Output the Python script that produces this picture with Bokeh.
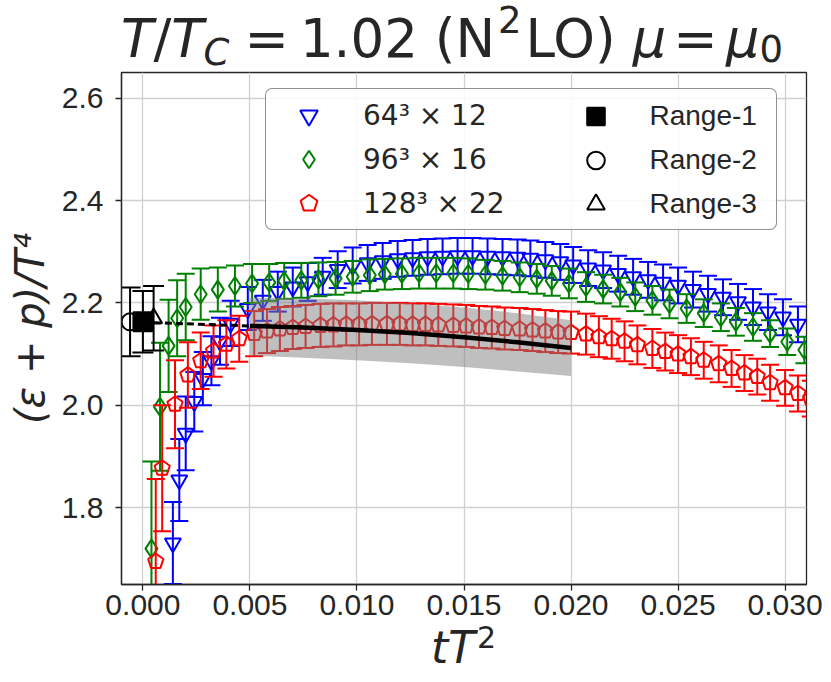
import numpy as np
from bokeh.plotting import figure
from bokeh.layouts import column
from bokeh.models import (ColumnDataSource, FixedTicker, PrintfTickFormatter, Div,
                          Legend, LegendItem, Range1d)
from bokeh.embed import file_html
from bokeh.resources import INLINE

# ---------------- data ----------------
x_ticks = [0.000, 0.005, 0.010, 0.015, 0.020, 0.025, 0.030]
y_ticks = [1.8, 2.0, 2.2, 2.4, 2.6]

blue_label = "64³ × 12"
blue_x = [0.0014, 0.0017, 0.0020, 0.0024, 0.0028, 0.0032, 0.0036, 0.0041, 0.0049, 0.0056,
          0.0063, 0.0070, 0.0077, 0.0084, 0.0091, 0.0098, 0.0105, 0.0112, 0.0119, 0.0126,
          0.0133, 0.0140, 0.0147, 0.0154, 0.0161, 0.0168, 0.0175, 0.0181, 0.0188, 0.0195,
          0.0201, 0.0208, 0.0215, 0.0222, 0.0229, 0.0236, 0.0243, 0.0250, 0.0257, 0.0264,
          0.0271, 0.0278, 0.0285, 0.0292, 0.0299, 0.0306]
blue_y = [1.731, 1.854, 1.945, 2.007, 2.052, 2.087, 2.125, 2.160, 2.189, 2.205,
          2.222, 2.231, 2.241, 2.252, 2.265, 2.273, 2.278, 2.282, 2.286, 2.288,
          2.290, 2.291, 2.292, 2.292, 2.291, 2.290, 2.289, 2.287, 2.284, 2.280,
          2.274, 2.268, 2.264, 2.257, 2.251, 2.245, 2.240, 2.234, 2.226, 2.218,
          2.211, 2.202, 2.192, 2.182, 2.172, 2.158]
blue_err = [0.080, 0.080, 0.072, 0.058, 0.052, 0.048, 0.046, 0.044, 0.042, 0.040,
            0.039, 0.038, 0.037, 0.036, 0.036, 0.035, 0.035, 0.035, 0.035, 0.035,
            0.035, 0.035, 0.035, 0.035, 0.035, 0.035, 0.035, 0.035, 0.035, 0.035,
            0.035, 0.035, 0.035, 0.035, 0.035, 0.035, 0.035, 0.035, 0.035, 0.035,
            0.035, 0.035, 0.035, 0.035, 0.035, 0.035]

green_label = "96³ × 16"
green_x = [0.0004, 0.0008, 0.0012, 0.0016, 0.0020, 0.0027, 0.0035, 0.0043, 0.0051, 0.0059,
           0.0066, 0.0074, 0.0082, 0.0090, 0.0098, 0.0106, 0.0113, 0.0121, 0.0129, 0.0137,
           0.0145, 0.0152, 0.0160, 0.0168, 0.0176, 0.0184, 0.0191, 0.0199, 0.0207, 0.0215,
           0.0223, 0.0230, 0.0238, 0.0246, 0.0254, 0.0262, 0.0270, 0.0277, 0.0285, 0.0293,
           0.0301, 0.0309]
green_y = [1.720, 1.997, 2.116, 2.170, 2.192, 2.217, 2.226, 2.233, 2.238, 2.240,
           2.243, 2.244, 2.246, 2.248, 2.251, 2.254, 2.256, 2.257, 2.258, 2.258,
           2.258, 2.257, 2.255, 2.253, 2.250, 2.247, 2.243, 2.238, 2.231, 2.227,
           2.221, 2.212, 2.205, 2.198, 2.189, 2.180, 2.172, 2.163, 2.153, 2.140,
           2.124, 2.108]
green_err = [0.170, 0.125, 0.090, 0.074, 0.065, 0.050, 0.043, 0.040, 0.038, 0.036,
             0.035, 0.034, 0.033, 0.032, 0.031, 0.031, 0.030, 0.030, 0.030, 0.030,
             0.030, 0.030, 0.029, 0.029, 0.029, 0.029, 0.029, 0.029, 0.029, 0.028,
             0.028, 0.028, 0.028, 0.028, 0.028, 0.027, 0.027, 0.027, 0.027, 0.026,
             0.026, 0.026]

red_label = "128³ × 22"
red_x = [0.0006, 0.0009, 0.0015, 0.0021, 0.0027, 0.0033, 0.0039, 0.0045, 0.0052, 0.0058,
         0.0064, 0.0070, 0.0076, 0.0083, 0.0089, 0.0095, 0.0101, 0.0107, 0.0114, 0.0120,
         0.0126, 0.0132, 0.0138, 0.0145, 0.0151, 0.0157, 0.0163, 0.0169, 0.0176, 0.0182,
         0.0188, 0.0194, 0.0200, 0.0207, 0.0213, 0.0219, 0.0225, 0.0231, 0.0238, 0.0244,
         0.0250, 0.0256, 0.0262, 0.0269, 0.0275, 0.0281, 0.0287, 0.0293, 0.0300, 0.0306,
         0.0312]
red_y = [1.695, 1.877, 2.002, 2.059, 2.087, 2.106, 2.119, 2.130, 2.140, 2.145,
         2.149, 2.152, 2.154, 2.156, 2.157, 2.158, 2.158, 2.159, 2.159, 2.159,
         2.158, 2.158, 2.157, 2.156, 2.155, 2.153, 2.152, 2.150, 2.149, 2.147,
         2.145, 2.143, 2.142, 2.139, 2.134, 2.130, 2.125, 2.118, 2.111, 2.105,
         2.100, 2.095, 2.088, 2.081, 2.072, 2.063, 2.056, 2.044, 2.034, 2.023,
         2.013]
red_err = [0.161, 0.123, 0.086, 0.064, 0.055, 0.050, 0.047, 0.045, 0.044, 0.043,
           0.043, 0.042, 0.042, 0.042, 0.042, 0.041, 0.041, 0.041, 0.041, 0.041,
           0.041, 0.041, 0.041, 0.041, 0.041, 0.041, 0.041, 0.041, 0.041, 0.041,
           0.041, 0.041, 0.041, 0.040, 0.040, 0.039, 0.039, 0.038, 0.038, 0.037,
           0.037, 0.036, 0.036, 0.036, 0.036, 0.035, 0.035, 0.035, 0.035, 0.035,
           0.035]

# continuum-extrapolated fit (solid) with band, and its dashed extension to tT^2 = 0
fit_x = [0.0050, 0.0075, 0.0100, 0.0125, 0.0150, 0.0175, 0.0200]
fit_y = [2.155, 2.152, 2.147, 2.141, 2.133, 2.123, 2.112]
fit_lo = [2.097, 2.093, 2.088, 2.082, 2.075, 2.066, 2.057]
fit_hi = [2.210, 2.209, 2.205, 2.199, 2.191, 2.180, 2.166]
ext_x = [0.0000, 0.0050]
ext_y = [2.162, 2.155]

range_labels = ["Range-1", "Range-2", "Range-3"]
range_x = [0.0000, -0.0006, 0.0005]
range_y = [2.163, 2.163, 2.170]
range_err = [0.060, 0.067, 0.063]

# ---------------- styling ----------------
INK = "#262626"
FONT_MATH = "DejaVu Sans"
FONT_TXT = "Liberation Sans"
W = 823

p = figure(width=W, height=562, output_backend="svg", toolbar_location=None,
           title_location=None,
           x_range=Range1d(-0.001, 0.031), y_range=Range1d(1.65, 2.65),
           min_border_left=121, min_border_right=17, min_border_top=6, min_border_bottom=44)
p.background_fill_color = "white"
p.border_fill_color = "white"
p.outline_line_color = INK
p.outline_line_width = 1.3

p.xaxis.ticker = FixedTicker(ticks=x_ticks)
p.xaxis.formatter = PrintfTickFormatter(format="%.3f")
p.yaxis.ticker = FixedTicker(ticks=y_ticks)
p.yaxis.formatter = PrintfTickFormatter(format="%.1f")
for ax in (p.xaxis[0], p.yaxis[0]):
    ax.axis_line_color = INK
    ax.axis_line_width = 1.3
    ax.major_tick_line_color = INK
    ax.major_tick_line_width = 1.3
    ax.major_tick_out = 6
    ax.major_tick_in = 0
    ax.minor_tick_line_color = None
    ax.major_label_text_font = FONT_TXT
    ax.major_label_text_font_size = "30px"
    ax.major_label_text_color = INK
p.xaxis.major_label_standoff = 4
p.yaxis.major_label_standoff = 12
p.yaxis.axis_label = "(ε + p)/T⁴"
p.yaxis.axis_label_text_font = FONT_MATH
p.yaxis.axis_label_text_font_style = "italic"
p.yaxis.axis_label_text_font_size = "40px"
p.yaxis.axis_label_text_color = INK
p.yaxis.axis_label_standoff = 6

p.grid.grid_line_color = "#d0d0d0"
p.grid.grid_line_width = 1.3


def series(xs, ys, errs, color, marker, size, cap=18):
    src = ColumnDataSource(dict(x=xs, y=ys,
                                lo=[a - b for a, b in zip(ys, errs)],
                                hi=[a + b for a, b in zip(ys, errs)]))
    p.segment(x0="x", y0="lo", x1="x", y1="hi", source=src, line_color=color, line_width=2)
    p.scatter(x="x", y="hi", source=src, marker="dash", size=cap, line_color=color, line_width=2)
    p.scatter(x="x", y="lo", source=src, marker="dash", size=cap, line_color=color, line_width=2)
    if marker == "pentagon":
        try:
            r = p.ngon(x="x", y="y", radius=8, radius_units="screen", n=5, angle=0,
                       source=src, line_color=color, fill_color=None, line_width=2)
        except Exception:
            r = p.scatter(x="x", y="y", source=src, marker="hex", size=16,
                          line_color=color, fill_color=None, line_width=2)
    else:
        r = p.scatter(x="x", y="y", source=src, marker=marker, size=size,
                      line_color=color, fill_color=None, line_width=2)
    return r


r_blue = series(blue_x, blue_y, blue_err, "#0000ff", "inverted_triangle", 16)
r_green = series(green_x, green_y, green_err, "#008000", "diamond", 18)
r_red = series(red_x, red_y, red_err, "#ff0000", "pentagon", 16)

# fit band, dashed extrapolation, solid fit
p.varea(x=fit_x, y1=fit_lo, y2=fit_hi, fill_color="#808080", fill_alpha=0.5)
p.line(ext_x, ext_y, line_color="black", line_width=3, line_dash="7 4")
p.line(fit_x, fit_y, line_color="black", line_width=4.5)

# continuum values at tT^2 -> 0
range_r = []
range_markers = ["square", "circle", "triangle"]
range_sizes = [19, 17, 17]
range_fill = ["black", None, None]
for i in range(3):
    src = ColumnDataSource(dict(x=[range_x[i]], y=[range_y[i]],
                                lo=[range_y[i] - range_err[i]], hi=[range_y[i] + range_err[i]]))
    p.segment(x0="x", y0="lo", x1="x", y1="hi", source=src, line_color="black", line_width=2)
    p.scatter(x="x", y="hi", source=src, marker="dash", size=21, line_color="black", line_width=2)
    p.scatter(x="x", y="lo", source=src, marker="dash", size=21, line_color="black", line_width=2)
    range_r.append(p.scatter(x="x", y="y", source=src, marker=range_markers[i], size=range_sizes[i],
                             line_color="black", fill_color=range_fill[i], line_width=2))

# legends
legA_kw = dict(location=(144, 354), margin=0, padding=4, spacing=0,
               glyph_height=44, glyph_width=77, label_standoff=16, label_width=409,
               label_text_font=FONT_MATH, label_text_font_size="28px", label_text_color=INK,
               background_fill_color="white", background_fill_alpha=0.85,
               border_line_color=INK, border_line_width=1.5)
if "border_radius" in Legend.properties():
    legA_kw["border_radius"] = 7
legA = Legend(items=[LegendItem(label=blue_label, renderers=[r_blue]),
                     LegendItem(label=green_label, renderers=[r_green]),
                     LegendItem(label=red_label, renderers=[r_red])], **legA_kw)
legB = Legend(items=[LegendItem(label=range_labels[i], renderers=[range_r[i]]) for i in range(3)],
              location=(431.5, 354), margin=0, padding=4, spacing=0,
              glyph_height=44, glyph_width=77, label_standoff=16,
              label_text_font=FONT_TXT, label_text_font_size="28px", label_text_color=INK,
              background_fill_alpha=0, border_line_alpha=0)
p.add_layout(legA, "center")
p.add_layout(legB, "center")

# ---------------- title and x label (rich text, flowing) ----------------
title_html = (
    '<div style="position:relative;width:%dpx;height:66px;font-family:\'DejaVu Sans\';color:%s;overflow:visible;">'
    '<span style="position:absolute;left:121px;top:11.9px;white-space:nowrap;font-size:53px;line-height:53px;">'
    '<i>T</i>/<i>T</i>'
    '<i style="font-size:37px;position:relative;top:8.3px;">C</i>'
    '<span style="margin-left:15px;margin-right:11px;">=</span>'
    '1.02 (N'
    '<span style="font-size:37px;position:relative;top:-23.7px;margin-left:3px;margin-right:4px;">2</span>'
    'LO) '
    '<i>μ</i>'
    '<span style="margin-left:7px;margin-right:8px;">=</span>'
    '<i>μ</i>'
    '<span style="font-size:37px;position:relative;top:5px;">0</span>'
    '</span></div>' % (W, INK))

xlabel_html = (
    '<div style="position:relative;width:%dpx;height:46px;font-family:\'DejaVu Sans\';color:%s;overflow:visible;">'
    '<span style="position:absolute;left:0px;width:927px;text-align:center;top:-2px;white-space:nowrap;'
    'font-size:44px;line-height:44px;">'
    '<i>tT</i>'
    '<span style="font-size:30px;position:relative;top:-15px;margin-left:2px;">2</span>'
    '</span></div>' % (W, INK))

title_div = Div(text=title_html, width=W, height=66, margin=0, styles={"overflow": "visible"})
xlabel_div = Div(text=xlabel_html, width=W, height=46, margin=0, styles={"overflow": "visible"})

layout = column(title_div, p, xlabel_div, spacing=0)
open("out.html", "w").write(file_html(layout, INLINE))
